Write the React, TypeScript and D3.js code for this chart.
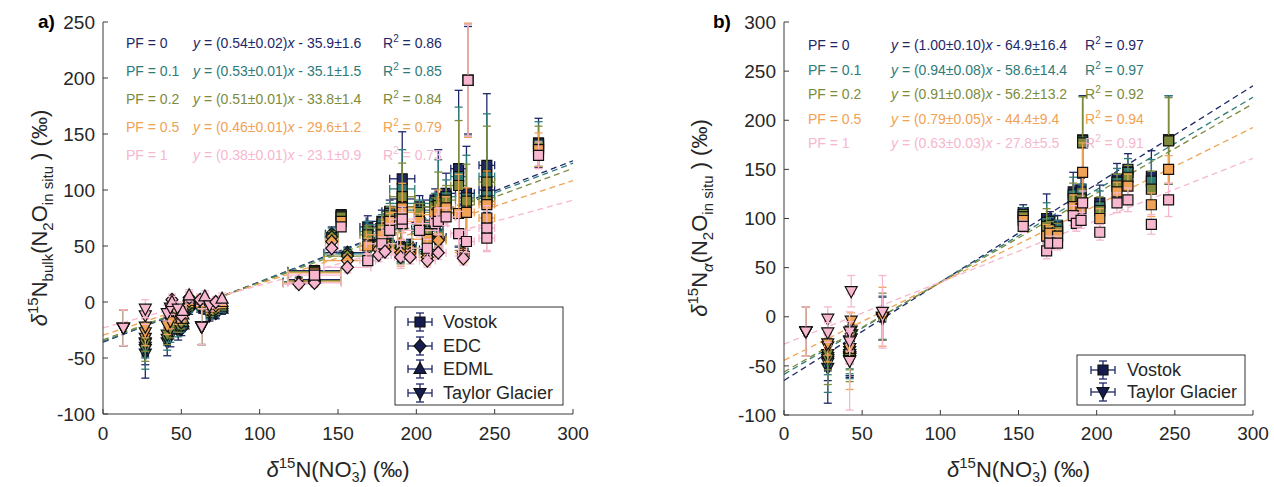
import React from "react";
import * as d3 from "d3";

// ---------- shared ----------
const PF_LABELS = ["PF = 0", "PF = 0.1", "PF = 0.2", "PF = 0.5", "PF = 1"];
const PF_COLORS = ["#1e2868", "#2e7b7a", "#7c8b3c", "#f0a255", "#f6b7cf"];
const X_TICKS = [0, 50, 100, 150, 200, 250, 300];

// ---------- panel a : δ15Nbulk ----------
const siteA = ["T","T","T","T","T","C","M","T","C","M","C","M","T","C","M","T","C","M","C","C","V","C","V","C","V","C","V","C","V","V","C","V","C","V","C","V","V","C","V","V","V","C","V","V","V","V","V"];
const xA = [13,27,27,41,43,44,44,48,50,51,55,55,63,62,65,68,72,76,125,135,135,146,152,156,169,176,178,180,183,191,190,191,196,202,207,207,212,214,214,219,227,230,232,233,245,245,278];
const xErrA = [0,2,2,2,2,2,2,2,2,2,2,2,0,2,2,2,2,2,10,17,17,4,2,15,5,8,10,5,5,8,4,8,4,10,5,10,8,5,5,6,5,3,5,3,5,5,3];
const yA_PF0 = [-23,-46,-40,-36,-30,-10,-6,-26,-24,-20,-6,-2,-22,-4,-6,-12,-10,-6,18,20,28,61,78,44,67,55,72,57,81,110,52,92,50,85,47,65,91,58,92,97,119,45,97,198,122,100,142];
const yA_PF01 = [-23,-42,-36,-33,-27,-8,-5,-23,-21,-18,-4,0,-22,-2,-4,-10,-8,-4,18,19,27,60,77,43,63,53,69,55,79,101,50,88,48,82,45,63,88,57,89,94,112,44,93,198,112,95,141];
const yA_PF02 = [-23,-37,-32,-29,-24,-6,-3,-20,-18,-15,-2,1,-22,0,-2,-8,-6,-2,17,19,27,58,76,41,60,51,66,53,77,94,48,85,46,80,43,61,85,56,86,91,104,43,90,198,107,90,139];
const yA_PF05 = [-23,-27,-22,-21,-17,-3,-1,-14,-13,-11,1,3,-22,1,1,-5,-3,0,17,18,26,54,72,37,50,47,60,49,72,84,44,80,43,72,40,56,78,55,80,84,79,41,80,198,87,75,136];
const yA_PF1 = [-23,-12,-6,-10,-5,2,0,-6,-12,-8,4,6,-22,2,5,-3,0,3,16,17,24,48,67,31,37,42,52,45,64,70,40,74,40,64,37,48,70,44,72,76,61,39,54,198,66,57,131];
const eA_PF0 = [16,22,16,12,10,6,6,8,6,5,5,5,16,5,5,5,5,5,4,4,4,6,4,5,10,6,10,6,10,42,16,10,6,10,10,8,10,6,44,18,70,6,42,48,64,20,22];
const eA_PF01 = [16,18,14,10,9,6,6,8,6,5,5,5,16,5,5,5,5,5,4,4,4,6,4,5,9,6,9,6,9,35,15,9,6,9,9,8,9,6,38,15,62,6,38,50,56,18,20];
const eA_PF02 = [16,16,12,9,8,5,5,7,6,5,5,5,16,5,5,5,5,5,4,4,4,5,4,5,8,6,8,6,8,30,14,8,6,8,8,8,8,6,30,13,58,6,33,50,50,16,18];
const eA_PF05 = [16,12,10,8,7,5,5,6,5,5,5,5,16,5,5,5,5,5,4,4,4,5,4,5,7,6,7,6,7,22,12,7,6,7,7,8,7,6,20,10,35,6,22,51,30,14,15];
const eA_PF1 = [16,8,8,7,6,5,5,6,5,5,5,5,16,5,5,5,5,5,4,4,4,5,4,5,6,6,6,6,6,15,10,6,6,6,6,8,6,6,12,8,20,6,10,50,20,12,12];
const slopeA = [0.54, 0.53, 0.51, 0.46, 0.38];
const slopeErrA = ["0.02", "0.01", "0.01", "0.01", "0.01"];
const interceptA = [-35.9, -35.1, -33.8, -29.6, -23.1];
const interceptErrA = ["1.6", "1.5", "1.4", "1.2", "0.9"];
const r2A = ["0.86", "0.85", "0.84", "0.79", "0.73"];
const yTicksA = [-100, -50, 0, 50, 100, 150, 200, 250];
const legendA = ["Vostok", "EDC", "EDML", "Taylor Glacier"];
const legendSitesA = ["V", "C", "M", "T"];

// ---------- panel b : δ15Nα ----------
const siteB = ["T","T","T","T","T","T","T","T","V","V","V","V","V","V","V","V","V","V","V","V","V"];
const xB = [14,28,28,42,42,43,42,63,153,168,170,175,185,187,191,190,202,213,220,235,246];
const xErrB = [0,2,2,2,2,2,2,2,2,2,2,2,2,2,2,2,2,2,2,2,2];
const yB_PF0 = [-15,-52,-45,-38,-42,-22,-40,-2,106,100,97,93,127,122,180,129,116,140,150,143,180];
const yB_PF01 = [-15,-47,-41,-35,-40,-18,-41,-1,104,96,93,90,124,118,179,125,112,137,147,138,180];
const yB_PF02 = [-15,-43,-38,-32,-38,-14,-42,0,102,92,89,87,120,112,177,120,108,133,142,130,179];
const yB_PF05 = [-15,-30,-27,-24,-32,-4,-44,0,98,82,85,82,112,102,147,110,100,127,133,114,150];
const yB_PF1 = [-15,-2,-16,-15,-25,26,-45,5,92,67,75,75,103,95,116,98,86,116,119,94,119];
const eB_PF0 = [25,36,20,22,20,14,20,22,8,25,10,10,20,12,45,12,18,16,16,26,45];
const eB_PF01 = [25,30,18,18,18,12,22,22,7,20,8,8,18,10,45,10,16,14,14,22,45];
const eB_PF02 = [25,26,16,16,16,10,24,24,6,18,8,8,16,10,47,10,14,12,12,18,44];
const eB_PF05 = [25,16,12,12,12,8,30,30,6,12,7,7,12,9,30,9,10,10,12,12,14];
const eB_PF1 = [25,12,10,10,10,16,50,37,6,8,7,7,10,8,12,8,8,10,12,10,17];
const slopeB = [1.0, 0.94, 0.91, 0.79, 0.63];
const slopeErrB = ["0.10", "0.08", "0.08", "0.05", "0.03"];
const interceptB = [-64.9, -58.6, -56.2, -44.4, -27.8];
const interceptErrB = ["16.4", "14.4", "13.2", "9.4", "5.5"];
const r2B = ["0.97", "0.97", "0.92", "0.94", "0.91"];
const yTicksB = [-100, -50, 0, 50, 100, 150, 200, 250, 300];
const legendB = ["Vostok", "Taylor Glacier"];
const legendSitesB = ["V", "T"];

const FONT = "'Liberation Sans', Arial, Helvetica, sans-serif";
const AXIS = "#3a3a3a";
const TXT = "#262626";

function markerPath(site: string, cx: number, cy: number): string {
  switch (site) {
    case "V":
      return `M${cx - 5},${cy - 5}h10v10h-10Z`;
    case "C":
      return `M${cx},${cy - 6.5}L${cx + 6},${cy}L${cx},${cy + 6.5}L${cx - 6},${cy}Z`;
    case "M":
      return `M${cx},${cy - 6.5}L${cx + 6},${cy + 4.5}L${cx - 6},${cy + 4.5}Z`;
    default:
      return `M${cx},${cy + 6.5}L${cx + 6},${cy - 4.5}L${cx - 6},${cy - 4.5}Z`;
  }
}

function ErrMark({ site, cx, cy, y1, y2, x1, x2, color, fill }: any) {
  const cap = 4;
  return (
    <g>
      <g stroke={color} strokeWidth={1.3} fill="none">
        <line x1={cx} x2={cx} y1={y1} y2={y2} />
        <line x1={cx - cap} x2={cx + cap} y1={y1} y2={y1} />
        <line x1={cx - cap} x2={cx + cap} y1={y2} y2={y2} />
        {x2 - x1 > 0.5 && (
          <>
            <line x1={x1} x2={x2} y1={cy} y2={cy} />
            <line x1={x1} x2={x1} y1={cy - cap} y2={cy + cap} />
            <line x1={x2} x2={x2} y1={cy - cap} y2={cy + cap} />
          </>
        )}
      </g>
      <path d={markerPath(site, cx, cy)} fill={fill} stroke="#111" strokeWidth={1.2} />
    </g>
  );
}

type PanelProps = {
  label: string;
  labelX: number;
  xRange: [number, number];
  yRange: [number, number];
  yDomain: [number, number];
  yTicks: number[];
  sites: string[];
  xs: number[];
  xErr: number[];
  ys: number[][];
  es: number[][];
  slopes: number[];
  slopeErr: string[];
  intercepts: number[];
  interceptErr: string[];
  r2: string[];
  eqX: [number, number, number];
  eqY0: number;
  eqDy: number;
  legendNames: string[];
  legendSites: string[];
  legendBox: [number, number, number, number];
  legendMarkerX: number;
  legendTextX: number;
  legendRowY: number[];
  yLabelX: number;
  yLabelSub: string;
  subItalic: boolean;
};

function Panel(p: PanelProps) {
  const x = d3.scaleLinear().domain([0, 300]).range(p.xRange);
  const y = d3.scaleLinear().domain(p.yDomain).range(p.yRange);
  const x0 = p.xRange[0];
  const yb = p.yRange[0];
  const yt = p.yRange[1];
  const line = d3.line<[number, number]>().x((d) => x(d[0])).y((d) => y(d[1]));
  const xMid = (p.xRange[0] + p.xRange[1]) / 2;

  return (
    <g fontFamily={FONT}>
      {/* regression lines */}
      {p.slopes.map((s, k) => (
        <path
          key={"l" + k}
          d={line([[0, p.intercepts[k]], [300, s * 300 + p.intercepts[k]]]) || ""}
          stroke={PF_COLORS[k]}
          strokeWidth={1.3}
          strokeDasharray="6,4"
          fill="none"
        />
      ))}
      {/* data */}
      {p.ys.map((yy, k) => (
        <g key={"s" + k}>
          {p.xs.map((xv, i) => (
            <ErrMark
              key={i}
              site={p.sites[i]}
              cx={x(xv)}
              cy={y(yy[i])}
              y1={y(yy[i] + p.es[k][i])}
              y2={y(yy[i] - p.es[k][i])}
              x1={x(xv - p.xErr[i])}
              x2={x(xv + p.xErr[i])}
              color={PF_COLORS[k]}
              fill={PF_COLORS[k]}
            />
          ))}
        </g>
      ))}
      {/* axes */}
      <line x1={x0} x2={x0} y1={yt} y2={yb} stroke={AXIS} strokeWidth={1} />
      <line x1={x0} x2={p.xRange[1]} y1={yb} y2={yb} stroke={AXIS} strokeWidth={1} />
      {p.yTicks.map((t) => (
        <g key={"yt" + t}>
          <line x1={x0} x2={x0 + 5} y1={y(t)} y2={y(t)} stroke={AXIS} />
          <text x={x0 - 8} y={y(t)} dy="0.35em" textAnchor="end" fontSize={19} fill={TXT}>
            {String(t)}
          </text>
        </g>
      ))}
      {X_TICKS.map((t) => (
        <g key={"xt" + t}>
          <line x1={x(t)} x2={x(t)} y1={yb} y2={yb - 5} stroke={AXIS} />
          <text x={x(t)} y={440} textAnchor="middle" fontSize={19} fill={TXT}>
            {String(t)}
          </text>
        </g>
      ))}
      {/* x label */}
      <text x={xMid} y={477} textAnchor="middle" fontSize={22} fill={TXT}>
        <tspan fontStyle="italic">δ</tspan>
        <tspan dy={-9} fontSize={15}>15</tspan>
        <tspan dy={9}>N(NO</tspan>
        <tspan dy={-9} fontSize={15}>-</tspan>
        <tspan dx={-5} dy={14} fontSize={14}>3</tspan>
        <tspan dy={-5}>) (‰)</tspan>
      </text>
      {/* y label */}
      <text
        transform={`translate(${p.yLabelX},218) rotate(-90)`}
        textAnchor="middle"
        fontSize={22}
        fill={TXT}
      >
        <tspan fontStyle="italic">δ</tspan>
        <tspan dy={-9} fontSize={15}>15</tspan>
        <tspan dy={9}>N</tspan>
        <tspan dy={6} fontSize={15} fontStyle={p.subItalic ? "italic" : "normal"}>{p.yLabelSub}</tspan>
        <tspan dy={-6}>(N</tspan>
        <tspan dy={6} fontSize={15}>2</tspan>
        <tspan dy={-6}>O</tspan>
        <tspan dy={6} fontSize={15}>in situ</tspan>
        <tspan dy={-6}>{" ) (‰)"}</tspan>
      </text>
      {/* panel label */}
      <text x={p.labelX} y={28} fontSize={19} fontWeight="bold" fill="#000">
        {p.label}
      </text>
      {/* equations */}
      {p.slopes.map((s, k) => {
        const yy = p.eqY0 + k * p.eqDy;
        return (
          <g key={"eq" + k} fill={PF_COLORS[k]} fontSize={14}>
            <text x={p.eqX[0]} y={yy}>{PF_LABELS[k]}</text>
            <text x={p.eqX[1]} y={yy}>
              <tspan fontStyle="italic">y</tspan>
              {` = (${s.toFixed(2)}±${p.slopeErr[k]})`}
              <tspan fontStyle="italic">x</tspan>
              {` - ${Math.abs(p.intercepts[k]).toFixed(1)}±${p.interceptErr[k]}`}
            </text>
            <text x={p.eqX[2]} y={yy}>
              R<tspan dy={-6} fontSize={10}>2</tspan>
              <tspan dy={6}>{` = ${p.r2[k]}`}</tspan>
            </text>
          </g>
        );
      })}
      {/* legend */}
      <rect
        x={p.legendBox[0]}
        y={p.legendBox[1]}
        width={p.legendBox[2]}
        height={p.legendBox[3]}
        fill="#fff"
        stroke="#333"
        strokeWidth={1}
      />
      {p.legendNames.map((n, i) => {
        const cy = p.legendRowY[i];
        const cx = p.legendMarkerX;
        return (
          <g key={"lg" + i}>
            <ErrMark
              site={p.legendSites[i]}
              cx={cx}
              cy={cy}
              y1={cy - 9}
              y2={cy + 9}
              x1={cx - 12}
              x2={cx + 12}
              color="#1e2868"
              fill="#141c50"
            />
            <text x={p.legendTextX} y={cy} dy="0.35em" fontSize={18} fill={TXT}>
              {n}
            </text>
          </g>
        );
      })}
    </g>
  );
}

export default function App() {
  return (
    <svg
      width={1274}
      height={487}
      viewBox="0 0 1274 487"
      style={{ position: "absolute", left: 0, top: 0, background: "#fff" }}
    >
      <rect width={1274} height={487} fill="#fff" />
      <Panel
        label="a)"
        labelX={38}
        xRange={[103, 573]}
        yRange={[414, 22]}
        yDomain={[-100, 250]}
        yTicks={yTicksA}
        sites={siteA}
        xs={xA}
        xErr={xErrA}
        ys={[yA_PF0, yA_PF01, yA_PF02, yA_PF05, yA_PF1]}
        es={[eA_PF0, eA_PF01, eA_PF02, eA_PF05, eA_PF1]}
        slopes={slopeA}
        slopeErr={slopeErrA}
        intercepts={interceptA}
        interceptErr={interceptErrA}
        r2={r2A}
        eqX={[126, 193, 383]}
        eqY0={48}
        eqDy={28}
        legendNames={legendA}
        legendSites={legendSitesA}
        legendBox={[395, 307, 168, 98]}
        legendMarkerX={420}
        legendTextX={443}
        legendRowY={[322, 346, 369, 393]}
        yLabelX={47}
        yLabelSub="bulk"
        subItalic={false}
      />
      <Panel
        label="b)"
        labelX={713}
        xRange={[784, 1253]}
        yRange={[415, 22]}
        yDomain={[-100, 300]}
        yTicks={yTicksB}
        sites={siteB}
        xs={xB}
        xErr={xErrB}
        ys={[yB_PF0, yB_PF01, yB_PF02, yB_PF05, yB_PF1]}
        es={[eB_PF0, eB_PF01, eB_PF02, eB_PF05, eB_PF1]}
        slopes={slopeB}
        slopeErr={slopeErrB}
        intercepts={interceptB}
        interceptErr={interceptErrB}
        r2={r2B}
        eqX={[808, 891, 1085]}
        eqY0={50}
        eqDy={24.5}
        legendNames={legendB}
        legendSites={legendSitesB}
        legendBox={[1077, 355, 168, 50]}
        legendMarkerX={1103}
        legendTextX={1127}
        legendRowY={[370, 392]}
        yLabelX={707}
        yLabelSub="α"
        subItalic={true}
      />
    </svg>
  );
}
